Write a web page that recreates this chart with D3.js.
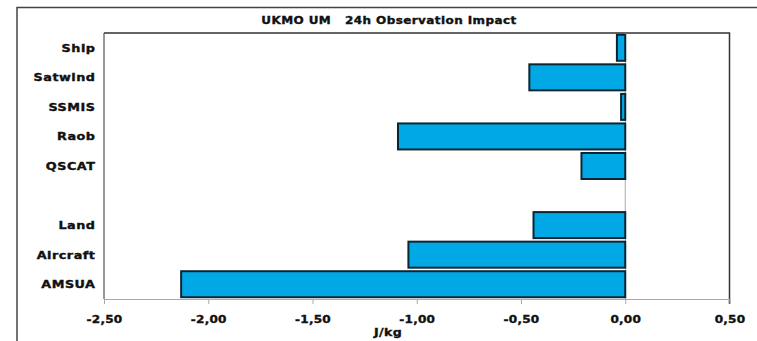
<!DOCTYPE html>
<html>
<head>
<meta charset="utf-8">
<script src="https://cdn.jsdelivr.net/npm/d3@7/dist/d3.min.js"></script>
<style>
  html, body { margin: 0; padding: 0; background: #fff; }
  svg { display: block; font-family: "DejaVu Sans", "Liberation Sans", Arial, sans-serif; }
</style>
</head>
<body>
<svg id="chart" width="757" height="341"></svg>
<script>
// Observation types, top to bottom ("" is an empty spacer row)
const categories = ["Ship", "Satwind", "SSMIS", "Raob", "QSCAT", "", "Land", "Aircraft", "AMSUA"];
// Total 24h forecast error impact per observation type (J/kg)
const impact = [-0.04, -0.46, -0.02, -1.09, -0.21, null, -0.44, -1.04, -2.13];
const xTicks = [-2.5, -2.0, -1.5, -1.0, -0.5, 0.0, 0.5];
const title = "UKMO UM   24h Observation Impact";
const xLabel = "J/kg";

const svg = d3.select("#chart");
const plot = { left: 104, right: 729.5, top: 33, bottom: 299 };

const x = d3.scaleLinear().domain([-2.5, 0.5]).range([plot.left, plot.right]);
const y = d3.scaleBand().domain(categories.map((c, i) => i)).range([plot.top, plot.bottom]).paddingInner(0.12).paddingOuter(0.06);

// heavy, horizontally widened label style
function wideText(sel, sx, spacing) {
  sel.attr("font-weight", "bold")
    .attr("fill", "#111")
    .attr("stroke", "#111")
    .attr("stroke-width", 0.35)
    .attr("letter-spacing", spacing)
    .attr("transform", function () {
      const t = d3.select(this);
      const tx = +t.attr("x") || 0, ty = +t.attr("y") || 0;
      t.attr("x", 0).attr("y", 0);
      return `translate(${tx},${ty}) scale(${sx},1)`;
    });
}

// outer frame (open on the right and bottom)
svg.append("path")
  .attr("d", `M17,${plot.bottom + 60} L17,7.5 L770,7.5`)
  .attr("fill", "none").attr("stroke", "#444").attr("stroke-width", 1.5);

// title
svg.append("text")
  .attr("x", 389).attr("y", 24)
  .attr("text-anchor", "middle")
  .attr("font-size", 10)
  .style("white-space", "pre")
  .text(title)
  .call(wideText, 1.2, 0.35);

// plot frame: dark top and right, gray left
svg.append("path")
  .attr("d", `M${plot.left},${plot.top} L${plot.right},${plot.top} L${plot.right},${plot.bottom + 5}`)
  .attr("fill", "none").attr("stroke", "#333").attr("stroke-width", 1.5);
svg.append("line")
  .attr("x1", plot.left).attr("x2", plot.left)
  .attr("y1", plot.top).attr("y2", plot.bottom)
  .attr("stroke", "#555").attr("stroke-width", 1.2);

// zero line
svg.append("line")
  .attr("x1", x(0)).attr("x2", x(0))
  .attr("y1", plot.top).attr("y2", plot.bottom)
  .attr("stroke", "#aaa").attr("stroke-width", 1);

// x axis
const xAxis = d3.axisBottom(x)
  .tickValues(xTicks)
  .tickSize(5)
  .tickSizeOuter(0)
  .tickFormat(d => d3.format(".2f")(d).replace(".", ",").replace("−", "-"));
const gx = svg.append("g")
  .attr("transform", `translate(0,${plot.bottom})`)
  .call(xAxis);
gx.select(".domain").attr("stroke", "#aaa").attr("stroke-width", 1.2);
gx.selectAll(".tick line").attr("stroke", "#aaa").attr("stroke-width", 1);
gx.selectAll(".tick text")
  .attr("y", 17)
  .attr("font-size", 10.5)
  .attr("font-family", "'DejaVu Sans', sans-serif")
  .call(wideText, 1.15, 0.2);

// axis title
svg.append("text")
  .attr("x", 388).attr("y", 336)
  .attr("text-anchor", "middle")
  .attr("font-size", 10.5)
  .text(xLabel)
  .call(wideText, 1.2, 0.3);

// category labels
svg.append("g").selectAll("text")
  .data(categories)
  .join("text")
  .attr("x", 95.5)
  .attr("y", (d, i) => y(i) + y.bandwidth() / 2 + 4)
  .attr("text-anchor", "end")
  .attr("font-size", 10)
  .text(d => d)
  .call(wideText, 1.28, 0.4);

// bars
const rows = categories.map((c, i) => ({ i, v: impact[i] })).filter(d => d.v != null);
svg.append("g").selectAll("rect")
  .data(rows)
  .join("rect")
  .attr("x", d => x(Math.min(0, d.v)))
  .attr("width", d => Math.abs(x(d.v) - x(0)))
  .attr("y", d => y(d.i))
  .attr("height", y.bandwidth())
  .attr("fill", "#00a9e6")
  .attr("stroke", "#0b2533")
  .attr("stroke-width", 2);
</script>
</body>
</html>
